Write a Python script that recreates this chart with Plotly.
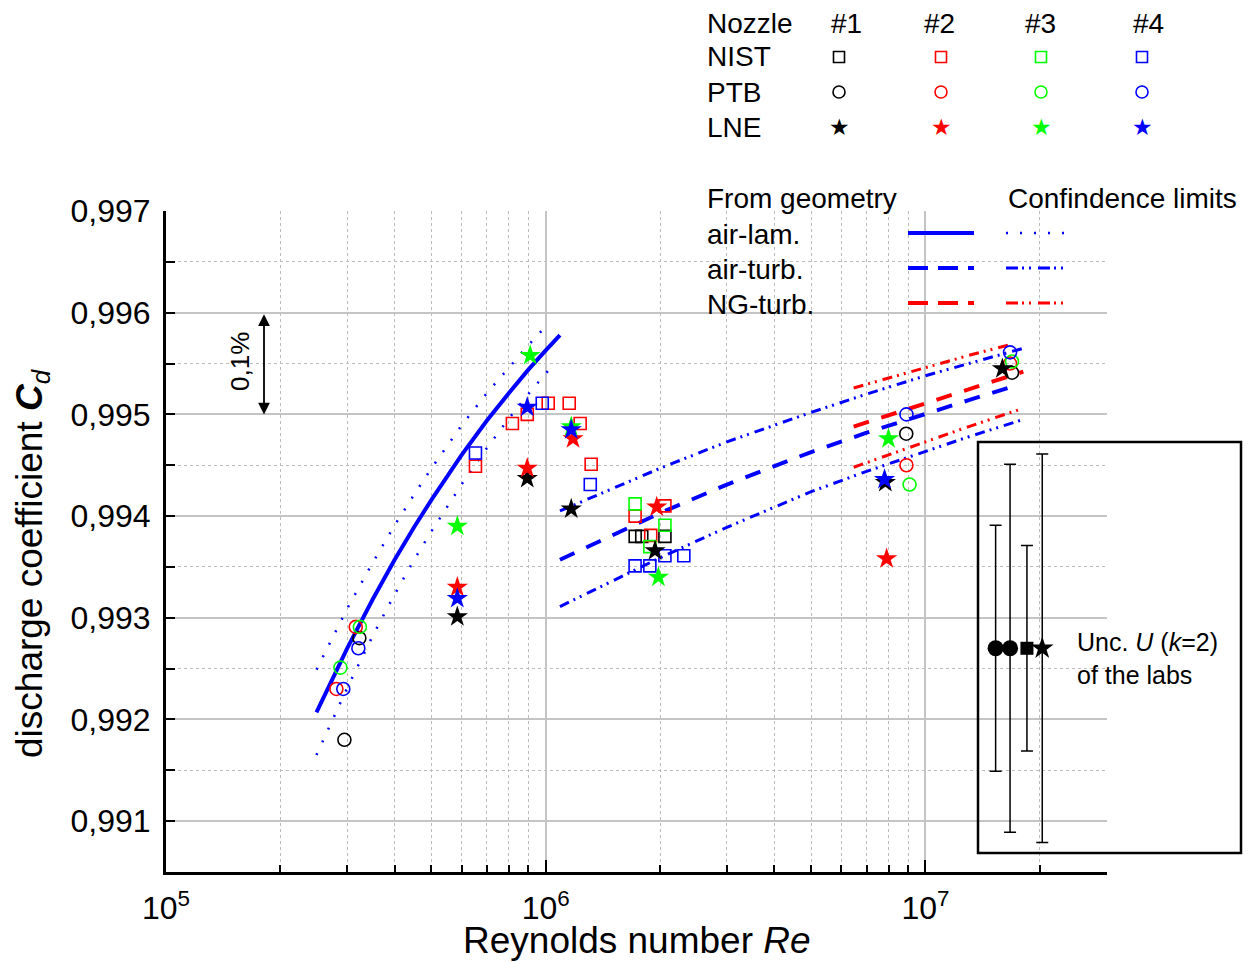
import plotly.graph_objects as go

# ---------------- data ----------------
# NIST (open squares), nozzles #1..#4
nist_re_1 = [1.72e6, 1.79e6, 2.06e6]
nist_cd_1 = [0.99380, 0.99380, 0.99380]
nist_re_2 = [6.53e5, 8.17e5, 8.94e5, 1.015e6, 1.153e6, 1.232e6, 1.317e6, 1.719e6, 1.89e6, 2.06e6]
nist_cd_2 = [0.99449, 0.99491, 0.99500, 0.99511, 0.99511, 0.99491, 0.99451, 0.99400, 0.99381, 0.99410]
nist_re_3 = [1.719e6, 1.88e6, 2.06e6]
nist_cd_3 = [0.99412, 0.99370, 0.99391]
nist_re_4 = [6.53e5, 9.79e5, 1.31e6, 1.719e6, 1.88e6, 2.06e6, 2.31e6]
nist_cd_4 = [0.99462, 0.99511, 0.99431, 0.99351, 0.99351, 0.99361, 0.99361]

# PTB (open circles)
ptb_re_1 = [2.95e5, 3.23e5, 8.9e6, 1.69e7]
ptb_cd_1 = [0.99180, 0.99280, 0.99481, 0.99541]
ptb_re_2 = [2.81e5, 3.16e5, 8.91e6, 1.67e7]
ptb_cd_2 = [0.99230, 0.99291, 0.99450, 0.99550]
ptb_re_3 = [2.88e5, 3.24e5, 9.08e6, 1.69e7]
ptb_cd_3 = [0.99251, 0.99291, 0.99431, 0.99552]
ptb_re_4 = [2.93e5, 3.21e5, 8.91e6, 1.67e7]
ptb_cd_4 = [0.99230, 0.99270, 0.99500, 0.99561]

# LNE (stars)
lne_re_1 = [5.85e5, 8.94e5, 1.167e6, 1.94e6, 7.84e6, 1.594e7]
lne_cd_1 = [0.99301, 0.99437, 0.99407, 0.99366, 0.99433, 0.99545]
lne_re_2 = [5.85e5, 8.94e5, 1.18e6, 1.96e6, 7.9e6]
lne_cd_2 = [0.99330, 0.99447, 0.99476, 0.99409, 0.99358]
lne_re_3 = [5.85e5, 9.1e5, 1.167e6, 1.98e6, 7.99e6]
lne_cd_3 = [0.99390, 0.99558, 0.99488, 0.99340, 0.99476]
lne_re_4 = [5.85e5, 8.94e5, 1.167e6, 7.8e6]
lne_cd_4 = [0.99319, 0.99507, 0.99485, 0.99436]

# From geometry: air-laminar and its confidence limits
lam_re = [2.49e5, 2.75e5, 3.0e5, 3.5e5, 4.0e5, 4.5e5, 5.0e5, 6.0e5, 7.0e5, 8.0e5, 9.0e5, 1.0e6, 1.09e6]
lam_cd = [0.99207, 0.99241, 0.99270, 0.99318, 0.99357, 0.99389, 0.99416, 0.99460, 0.99494, 0.99521,
          0.99544, 0.99563, 0.99578]
lam_re_ci = [2.49e5, 2.75e5, 3.0e5, 3.5e5, 4.0e5, 4.5e5, 5.0e5, 6.0e5, 7.0e5, 8.0e5, 9.0e5, 1.02e6]
lam_cd_hi = [0.99249, 0.99281, 0.99309, 0.99354, 0.99391, 0.99421, 0.99447, 0.99489, 0.99521, 0.99546,
             0.99568, 0.99590]
lam_cd_lo = [0.99165, 0.99201, 0.99231, 0.99282, 0.99323, 0.99357, 0.99385, 0.99431, 0.99467, 0.99496,
             0.99520, 0.99544]

# air-turbulent
turb_re = [1.09e6, 2.0e6, 3.0e6, 5.0e6, 7.0e6, 1.0e7, 1.3e7, 1.68e7]
turb_cd = [0.99357, 0.99403, 0.99431, 0.99463, 0.99482, 0.99501, 0.99514, 0.99527]
turb_re_ci = [1.09e6, 2.0e6, 3.0e6, 5.0e6, 7.0e6, 1.0e7, 1.3e7, 1.81e7]
turb_cd_hi = [0.99405, 0.99447, 0.99473, 0.99502, 0.99520, 0.99538, 0.99550, 0.99565]
turb_cd_lo = [0.99311, 0.99359, 0.99389, 0.99424, 0.99444, 0.99464, 0.99478, 0.99495]

# NG-turbulent
ng_re = [6.47e6, 1.0e7, 1.3e7, 1.81e7]
ng_cd = [0.99488, 0.99511, 0.99525, 0.99542]
ng_re_hi = [6.47e6, 1.0e7, 1.3e7, 1.65e7]
ng_cd_hi = [0.99526, 0.99546, 0.99558, 0.99568]
ng_re_lo = [6.47e6, 1.0e7, 1.3e7, 1.81e7]
ng_cd_lo = [0.99448, 0.99473, 0.99488, 0.99506]

# Uncertainty U(k=2) of the labs
unc_re = [1.53e7, 1.67e7, 1.85e7, 2.03e7]
unc_cd = [0.99270, 0.99270, 0.99270, 0.99270]
unc_half = [0.00121, 0.00181, 0.00101, 0.00191]
unc_symbols = ["circle", "circle", "square", "star"]

y_tickvals = [0.991, 0.992, 0.993, 0.994, 0.995, 0.996, 0.997]
y_ticktext = ["0,991", "0,992", "0,993", "0,994", "0,995", "0,996", "0,997"]
x_tickvals = [1e5, 1e6, 1e7]
x_ticktext = ["10<sup>5</sup>", "10<sup>6</sup>", "10<sup>7</sup>"]

nozzle_labels = ["#1", "#2", "#3", "#4"]
lab_labels = ["NIST", "PTB", "LNE"]

# ---------------- styling ----------------
BLACK, RED, GREEN, BLUE = "#000000", "#ff0000", "#00ff00", "#0000ff"
colors = [BLACK, RED, GREEN, BLUE]
FONT = "Liberation Sans, Arial, sans-serif"

# the page body has an 8px margin: figure is offset by 8px
OFF = 8
PAGE_L, PAGE_T, PAGE_R, PAGE_B = 166, 211, 1107, 872   # plot area in page pixels
W, H = 1252 - OFF, 962 - OFF
L, T = PAGE_L - OFF, PAGE_T - OFF
R, B = W - (PAGE_R - OFF), H - (PAGE_B - OFF)
PW, PH = PAGE_R - PAGE_L, PAGE_B - PAGE_T


def pxp(x):
    return (x - PAGE_L) / PW


def pyp(y):
    return (PAGE_B - y) / PH


DOT = "2px,12px"
DASH = "16px,13px"
DASHDOT = "10px,5px,2px,5px,2px,6px"
LEGF = 28

fig = go.Figure()


def line(x, y, color, width, dash):
    fig.add_trace(go.Scatter(x=x, y=y, mode="lines",
                             line=dict(color=color, width=width, dash=dash),
                             showlegend=False, hoverinfo="skip"))


line(lam_re_ci, lam_cd_hi, BLUE, 2.5, DOT)
line(lam_re_ci, lam_cd_lo, BLUE, 2.5, DOT)
line(lam_re, lam_cd, BLUE, 4, "solid")
line(turb_re_ci, turb_cd_hi, BLUE, 3, DASHDOT)
line(turb_re_ci, turb_cd_lo, BLUE, 3, DASHDOT)
line(turb_re, turb_cd, BLUE, 4, DASH)
line(ng_re_hi, ng_cd_hi, RED, 3, DASHDOT)
line(ng_re_lo, ng_cd_lo, RED, 3, DASHDOT)
line(ng_re, ng_cd, RED, 4, DASH)

nist = [(nist_re_1, nist_cd_1), (nist_re_2, nist_cd_2), (nist_re_3, nist_cd_3), (nist_re_4, nist_cd_4)]
ptb = [(ptb_re_1, ptb_cd_1), (ptb_re_2, ptb_cd_2), (ptb_re_3, ptb_cd_3), (ptb_re_4, ptb_cd_4)]
lne = [(lne_re_1, lne_cd_1), (lne_re_2, lne_cd_2), (lne_re_3, lne_cd_3), (lne_re_4, lne_cd_4)]

for (x, y), c in zip(nist, colors):
    fig.add_trace(go.Scatter(x=x, y=y, mode="markers", showlegend=False,
                             marker=dict(symbol="square-open", size=12, color=c, line=dict(width=1.6, color=c))))
for (x, y), c in zip(ptb, colors):
    fig.add_trace(go.Scatter(x=x, y=y, mode="markers", showlegend=False,
                             marker=dict(symbol="circle-open", size=13, color=c, line=dict(width=1.6, color=c))))
for (x, y), c in zip(lne, colors):
    fig.add_trace(go.Scatter(x=x, y=y, mode="markers", showlegend=False,
                             marker=dict(symbol="star", size=16, color=c, line=dict(width=0))))

fig.add_trace(go.Scatter(x=unc_re, y=unc_cd, mode="markers", showlegend=False,
                         marker=dict(symbol=unc_symbols, size=[16, 16, 13, 17], color=BLACK, opacity=1,
                                     line=dict(width=0)),
                         error_y=dict(type="data", array=unc_half, visible=True, color=BLACK,
                                      thickness=1.5, width=6)))

shapes = []
annotations = []


def text(x, y, s, size, xanchor="center", yanchor="middle", **kw):
    annotations.append(dict(xref="paper", yref="paper", x=pxp(x), y=pyp(y), text=s, showarrow=False,
                            xanchor=xanchor, yanchor=yanchor, borderpad=0,
                            font=dict(family=kw.pop("family", FONT), size=size, color=kw.pop("color", BLACK)),
                            **kw))


# uncertainty box
shapes.append(dict(type="rect", xref="paper", yref="paper", x0=pxp(978), x1=pxp(1241),
                   y0=pyp(853), y1=pyp(442), line=dict(color=BLACK, width=2.5)))
text(1076, 658, "Unc. <i>U</i> (<i>k</i>=2)<br>of the labs", 25, xanchor="left", align="left")

# 0,1% arrow
annotations.append(dict(xref="paper", yref="y", x=pxp(264), y=0.995, axref="pixel", ax=0,
                        ayref="y", ay=0.996, text="", showarrow=True, arrowside="end+start",
                        arrowhead=2, arrowsize=1.3, arrowwidth=1.8, arrowcolor=BLACK,
                        standoff=0, startstandoff=0))
text(240, 362, "0,1%", 26, textangle=-90)

# axis titles
text(32, 563, "discharge coefficient <b><i>C</i></b><sub><i>d</i></sub>", 37, textangle=-90)
text(637, 941, "Reynolds number <i>Re</i>", 37)

# ---- top legend: nozzle / lab table ----
HEAD_Y = 23
text(706, HEAD_Y, "Nozzle", LEGF, xanchor="left")
col_x = [839, 941, 1041, 1142]
head_x = [846, 939, 1040, 1148]
row_y = [57, 92, 127]
for hx, lab in zip(head_x, nozzle_labels):
    text(hx, HEAD_Y, lab, LEGF)
for ry, lab in zip(row_y, lab_labels):
    text(706, ry, lab, LEGF, xanchor="left")
for cx, c in zip(col_x, colors):
    shapes.append(dict(type="rect", xref="paper", yref="paper", xsizemode="pixel", ysizemode="pixel",
                       xanchor=pxp(cx), yanchor=pyp(row_y[0]), x0=-5.5, x1=5.5, y0=-5.5, y1=5.5,
                       line=dict(color=c, width=1.6)))
    shapes.append(dict(type="circle", xref="paper", yref="paper", xsizemode="pixel", ysizemode="pixel",
                       xanchor=pxp(cx), yanchor=pyp(row_y[1]), x0=-6, x1=6, y0=-6, y1=6,
                       line=dict(color=c, width=1.6)))
    text(cx, row_y[2], "★", 23, family="DejaVu Sans", color=c)

# ---- geometry legend ----
text(706, 198, "From geometry", LEGF, xanchor="left")
text(1007, 198, "Confindence limits", LEGF, xanchor="left")
geo_rows = [("air-lam.", 234, BLUE, "solid", DOT),
            ("air-turb.", 269, BLUE, "20px,10px", "12px,4px,2px,5px,2px,7px"),
            ("NG-turb.", 304, RED, "20px,10px", "12px,4px,2px,5px,2px,7px")]
for lab, gy, c, d1, d2 in geo_rows:
    text(706, gy, lab, LEGF, xanchor="left")
    shapes.append(dict(type="line", xref="paper", yref="paper", x0=pxp(908), x1=pxp(974),
                       y0=pyp(gy - 1), y1=pyp(gy - 1), line=dict(color=c, width=4, dash=d1)))
    shapes.append(dict(type="line", xref="paper", yref="paper", x0=pxp(1006), x1=pxp(1068),
                       y0=pyp(gy - 1), y1=pyp(gy - 1),
                       line=dict(color=c, width=2.5 if d2 == DOT else 3, dash=d2)))

minor_x = [m * 10 ** e for e in (5, 6, 7) for m in range(2, 10)]
minor_y = [0.9905, 0.9915, 0.9925, 0.9935, 0.9945, 0.9955, 0.9965]

fig.update_layout(
    width=W, height=H,
    margin=dict(l=L, r=R, t=T, b=B),
    paper_bgcolor="white", plot_bgcolor="white",
    font=dict(family=FONT, color=BLACK),
    shapes=shapes, annotations=annotations,
    showlegend=False,
    xaxis=dict(type="log", range=[5, 7.478], showline=True, linewidth=3, linecolor=BLACK,
               ticks="inside", ticklen=12, tickwidth=2, tickcolor=BLACK,
               tickmode="array", tickvals=x_tickvals, ticktext=x_ticktext,
               tickfont=dict(family=FONT, size=32, color=BLACK), ticklabelstandoff=6,
               showgrid=True, gridcolor="#c4c4c4", gridwidth=1.5, zeroline=False,
               minor=dict(tickmode="array", tickvals=minor_x, ticks="inside", ticklen=7, tickwidth=2,
                          tickcolor=BLACK, showgrid=True, gridcolor="#bcbcbc", griddash="dot", gridwidth=1)),
    yaxis=dict(range=[0.9905, 0.997], showline=True, linewidth=3, linecolor=BLACK,
               ticks="inside", ticklen=9, tickwidth=2, tickcolor=BLACK,
               tickmode="array", tickvals=y_tickvals, ticktext=y_ticktext,
               tickfont=dict(family=FONT, size=32, color=BLACK), ticklabelstandoff=6,
               showgrid=True, gridcolor="#c4c4c4", gridwidth=1.5, zeroline=False,
               minor=dict(tickmode="array", tickvals=minor_y, ticks="inside", ticklen=9, tickwidth=2,
                          tickcolor=BLACK, showgrid=True, gridcolor="#bcbcbc", griddash="dot", gridwidth=1)),
)

fig.write_html("out.html")
